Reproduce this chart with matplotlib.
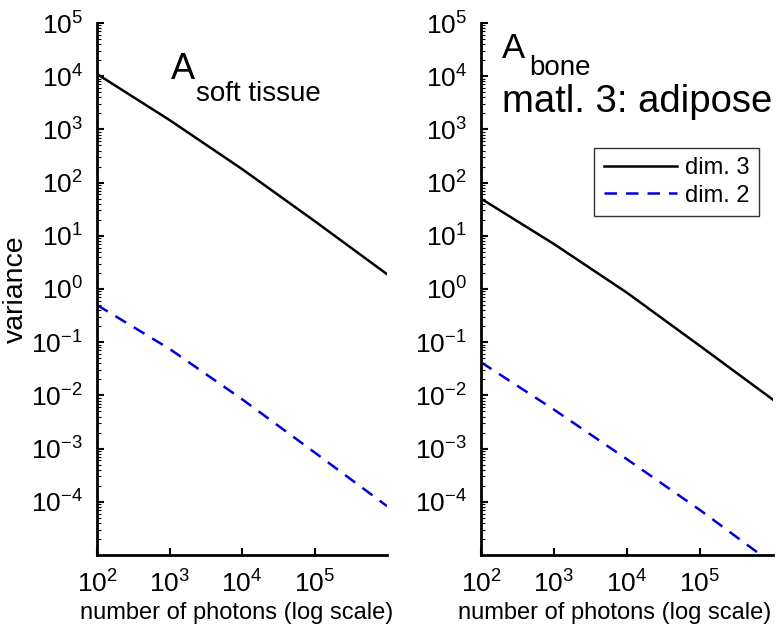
import matplotlib.pyplot as plt
from matplotlib.ticker import LogLocator, NullFormatter, NullLocator

plt.rcParams['font.family'] = ['Liberation Sans', 'DejaVu Sans']
plt.rcParams['mathtext.fontset'] = 'custom'
plt.rcParams['mathtext.rm'] = 'Liberation Sans'
plt.rcParams['mathtext.it'] = 'Liberation Sans:italic'

# number of photons
photons = [1e2, 1e3, 1e4, 1e5, 1e6]

# soft tissue panel
soft_dim3 = [1.1e4, 1.5e3, 1.8e2, 1.9e1, 1.9]
soft_dim2 = [0.5, 7.5e-2, 8.5e-3, 8.5e-4, 8.3e-5]

# bone panel (matl. 3: adipose)
bone_dim3 = [50.0, 7.0, 0.85, 8.5e-2, 8.3e-3]
bone_dim2 = [4.2e-2, 5.4e-3, 6.3e-4, 7.0e-5, 6.8e-6]

ytick_vals = [1e-4, 1e-3, 1e-2, 1e-1, 1e0, 1e1, 1e2, 1e3, 1e4, 1e5]
xtick_vals = [1e2, 1e3, 1e4, 1e5]

W, H = 780.0, 627.0
fig = plt.figure(figsize=(W / 100, H / 100), dpi=100)
ax1 = fig.add_axes([97 / W, (H - 555) / H, 290 / W, 532 / H])
ax2 = fig.add_axes([481 / W, (H - 555) / H, 292 / W, 532 / H])

blue = (0.0, 0.0, 0.85)
for ax, d3, d2 in [(ax1, soft_dim3, soft_dim2), (ax2, bone_dim3, bone_dim2)]:
    ax.plot(photons, d3, color='black', lw=1.8, label='dim. 3')
    ax.plot(photons, d2, color=blue, lw=1.8, dashes=(5, 3.6), label='dim. 2')
    ax.set_xscale('log')
    ax.set_yscale('log')
    ax.set_xlim(1e2, 1e6)
    ax.set_ylim(1e-5, 1e5)
    ax.set_xticks(xtick_vals)
    ax.set_yticks(ytick_vals)
    ax.xaxis.set_minor_locator(NullLocator())
    ax.yaxis.set_minor_locator(LogLocator(base=10, subs=range(2, 10), numticks=20))
    ax.yaxis.set_minor_formatter(NullFormatter())
    ax.tick_params(which='major', direction='in', length=5, width=1.5, labelsize=19)
    ax.tick_params(axis='y', which='major', pad=10)
    ax.tick_params(axis='x', which='major', pad=11)
    ax.tick_params(which='minor', direction='in', length=3, width=0.8)
    ax.spines['top'].set_visible(False)
    ax.spines['right'].set_visible(False)
    ax.spines['left'].set_linewidth(2)
    ax.spines['bottom'].set_linewidth(2)


def put(x, y, s, size, **kw):
    # place text by pixel position of its baseline start
    fig.text(x / W, 1 - y / H, s, fontsize=size, va='baseline', **kw)


# axis labels
put(237, 619, 'number of photons (log scale)', 17, ha='center')
put(615, 619, 'number of photons (log scale)', 17, ha='center')
fig.text(16 / W, 1 - 289 / H, 'variance', fontsize=20.5, rotation=90,
         ha='center', va='center')

# panel titles
put(171, 79, 'A', 26, ha='left')
put(196, 101, 'soft tissue', 20, ha='left')
put(502, 58, 'A', 25, ha='left')
put(529, 75, 'bone', 20, ha='left')
put(502, 112, 'matl. 3: adipose', 27.5, ha='left')

leg = ax2.legend(loc='upper right', bbox_to_anchor=((759 - 481) / 292, (555 - 148) / 532),
                 fontsize=17, frameon=True, fancybox=False, edgecolor='black',
                 handlelength=3.1, handletextpad=0.35, borderpad=0.4,
                 labelspacing=0.22, borderaxespad=0)
leg.get_frame().set_linewidth(1.0)

fig.savefig('out.png', dpi=100)
